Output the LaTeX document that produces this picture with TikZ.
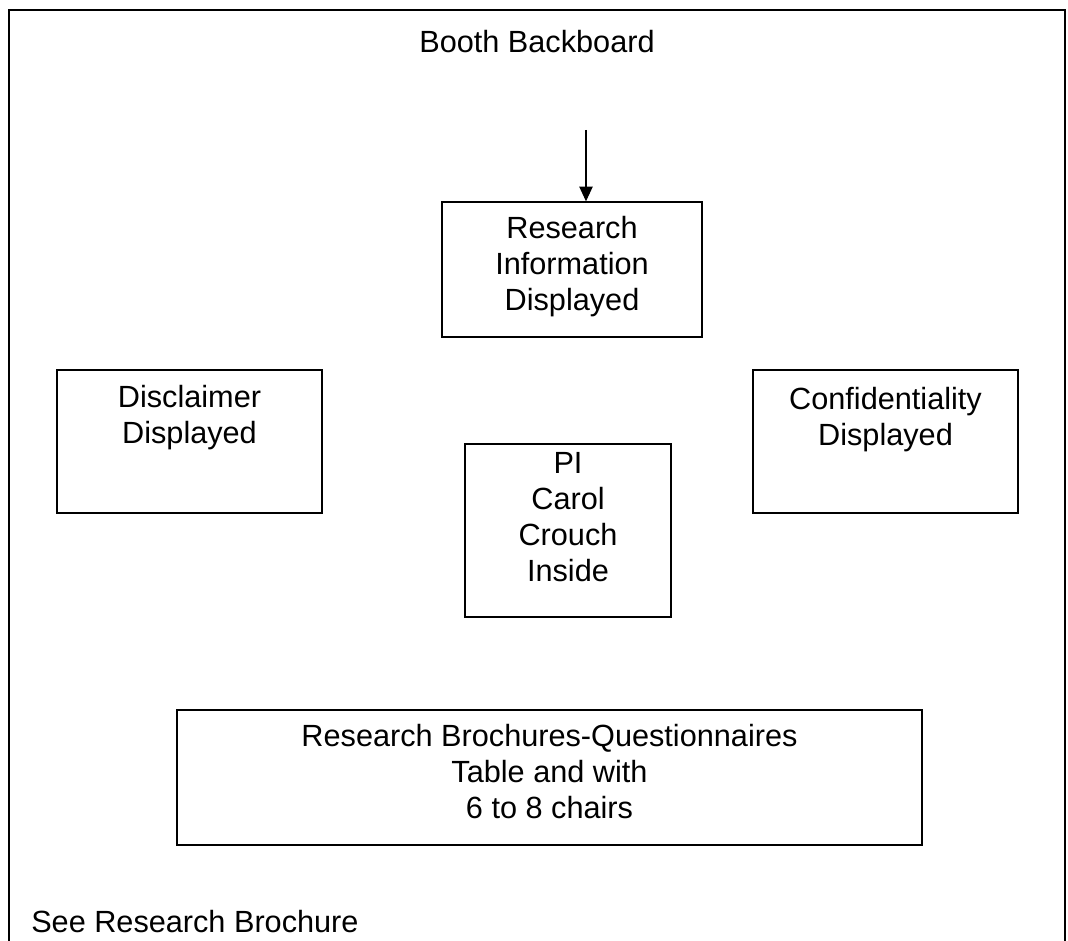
\documentclass[tikz,border=0pt]{standalone}
\usepackage{fontspec}
\setmainfont{Liberation Sans}
\usetikzlibrary{arrows.meta,positioning}

\begin{document}
\begin{tikzpicture}[x=0.75pt, y=-0.75pt,
    every node/.style={font=\fontsize{23}{27}\selectfont, align=center},
    panel/.style={draw, line width=1pt, inner sep=0pt}]
      \useasboundingbox (0,0) rectangle (1068,941);

      % backboard frame, open at the bottom
      \draw[line width=1.2pt] (9,941) -- (9,10) -- (1065,10) -- (1065,941);
      \node (title) at (537,42) {Booth Backboard};

      \node[panel, minimum width=195pt, minimum height=101.25pt] (info) at (572,269.5) {};
      \node[panel, minimum width=198.75pt, minimum height=107.25pt] (discl) at (189.5,441.5) {};
      \node[panel, minimum width=198.75pt, minimum height=107.25pt] (conf) at (885.5,441.5) {};
      \node[panel, minimum width=154.5pt, minimum height=129.75pt] (pi) at (568,530.5) {};
      \node[panel, minimum width=558.75pt, minimum height=101.25pt] (table) at (549.5,777.5) {};

      \node (infotxt) at (572,267) {Research\\Information\\Displayed};
      \node (discltxt) at (189.5,418) {Disclaimer\\Displayed};
      \node (conftxt) at (885.5,419.5) {Confidentiality\\Displayed};
      \node (pitxt) at (568,517.5) {PI\\Carol\\Crouch\\Inside};
      \node (tabletxt) at (549.5,772) {Research Brochures-Questionnaires\\Table and with\\6 to 8 chairs};

      \node[anchor=west, inner sep=0pt] (note) at (31,922) {See Research Brochure};

      \coordinate (arrtop) at (586,130);
      \draw[line width=0.8pt, -{Triangle[length=11pt, width=10pt]}] (arrtop) -- (arrtop |- info.north);
\end{tikzpicture}
\end{document}
